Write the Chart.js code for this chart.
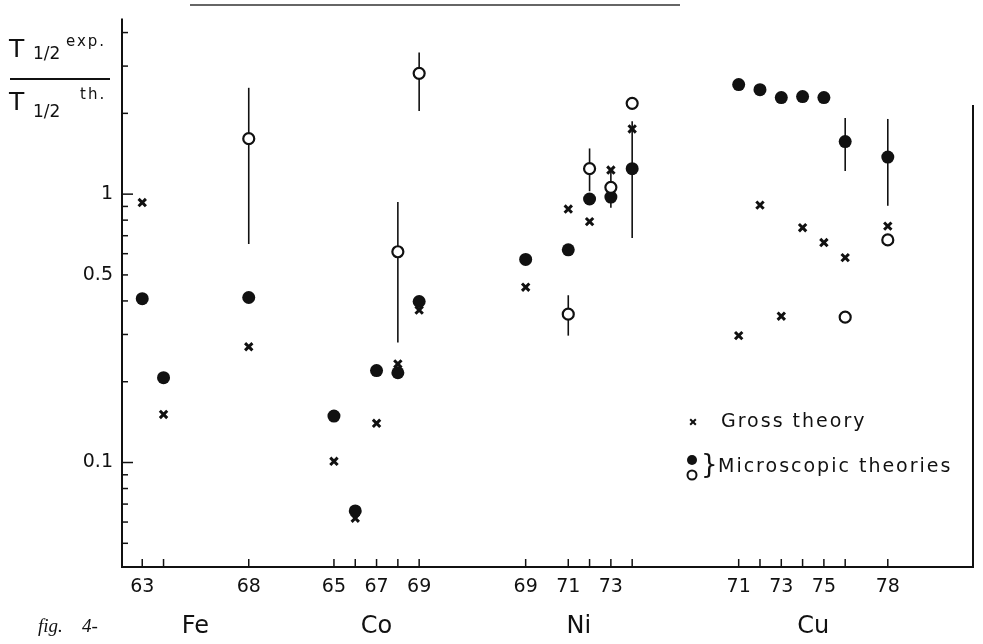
<!DOCTYPE html>
<html>
<head>
<meta charset="utf-8">
<script src="https://cdn.jsdelivr.net/npm/chart.js@4"></script>
<style>
  html, body { margin: 0; background: #fff; }
  #wrap { width: 983px; height: 644px; position: relative; }
</style>
</head>
<body>
<div id="wrap"><canvas id="chart"></canvas></div>
<script>
// mass numbers shown along the axis, per element
const elements = ["Fe", "Co", "Ni", "Cu"];
const slotOffset = { Fe: -62, Co: -55, Ni: -50, Cu: -42 };
const massTicks = {
  Fe: [63, 64, 68],
  Co: [65, 66, 67, 68, 69],
  Ni: [69, 71, 72, 73, 74],
  Cu: [71, 72, 73, 74, 75, 76, 78]
};
const massLabels = {
  Fe: [63, 68],
  Co: [65, 67, 69],
  Ni: [69, 71, 73],
  Cu: [71, 73, 75, 78]
};

const yTicks = [0.05, 0.06, 0.07, 0.08, 0.09, 0.1, 0.2, 0.3, 0.4, 0.5, 0.6, 0.7, 0.8, 0.9, 1, 2, 3, 4];
const yTickLabels = [0.1, 0.5, 1];

// T1/2 exp / T1/2 th  -> [element, mass, ratio]
const grossTheory = [
  ["Fe", 63, 0.93], ["Fe", 64, 0.151], ["Fe", 68, 0.27],
  ["Co", 65, 0.101], ["Co", 66, 0.062], ["Co", 67, 0.14], ["Co", 68, 0.233], ["Co", 69, 0.37],
  ["Ni", 69, 0.45], ["Ni", 71, 0.88], ["Ni", 72, 0.79], ["Ni", 73, 1.23], ["Ni", 74, 1.75],
  ["Cu", 71, 0.297], ["Cu", 72, 0.91], ["Cu", 73, 0.351], ["Cu", 74, 0.75], ["Cu", 75, 0.66],
  ["Cu", 76, 0.58], ["Cu", 78, 0.76]
];
const microFilled = [
  ["Fe", 63, 0.408], ["Fe", 64, 0.207], ["Fe", 68, 0.412],
  ["Co", 65, 0.149], ["Co", 66, 0.066], ["Co", 67, 0.22], ["Co", 68, 0.216], ["Co", 69, 0.398],
  ["Ni", 69, 0.571], ["Ni", 71, 0.62], ["Ni", 72, 0.959], ["Ni", 73, 0.975], ["Ni", 74, 1.244],
  ["Cu", 71, 2.56], ["Cu", 72, 2.45], ["Cu", 73, 2.29], ["Cu", 74, 2.31], ["Cu", 75, 2.29],
  ["Cu", 76, 1.57], ["Cu", 78, 1.374]
];
const microOpen = [
  ["Fe", 68, 1.61], ["Co", 68, 0.61], ["Co", 69, 2.82],
  ["Ni", 71, 0.357], ["Ni", 72, 1.244], ["Ni", 73, 1.06], ["Ni", 74, 2.18],
  ["Cu", 76, 0.348], ["Cu", 78, 0.675]
];
// [element, mass, low, high]
const errorBars = [
  ["Fe", 68, 0.652, 2.49], ["Co", 68, 0.28, 0.935], ["Co", 69, 2.04, 3.37],
  ["Ni", 71, 0.297, 0.42], ["Ni", 72, 1.025, 1.48], ["Ni", 73, 0.89, 1.22],
  ["Ni", 74, 0.686, 1.87], ["Cu", 76, 1.22, 1.92], ["Cu", 78, 0.905, 1.906]
];

const ink = "#111";
const font = "'DejaVu Sans', sans-serif";

const slot = (el, a) => a + slotOffset[el];
const toPoints = (rows) => rows.map(r => ({ x: slot(r[0], r[1]), y: r[2] }));

const xTickValues = [];
const xLabelMap = {};
elements.forEach(el => {
  massTicks[el].forEach(a => xTickValues.push(slot(el, a)));
  massLabels[el].forEach(a => { xLabelMap[slot(el, a)] = String(a); });
});

const decor = {
  id: "decor",
  beforeDatasetsDraw(chart) {
    const { ctx, scales: { x, y } } = chart;
    ctx.save();
    ctx.strokeStyle = ink;
    ctx.lineWidth = 1.6;
    errorBars.forEach(([el, a, lo, hi]) => {
      const px = x.getPixelForValue(slot(el, a));
      ctx.beginPath();
      ctx.moveTo(px, y.getPixelForValue(lo));
      ctx.lineTo(px, y.getPixelForValue(hi));
      ctx.stroke();
    });
    ctx.restore();
  },
  afterDraw(chart) {
    const { ctx, chartArea: ca, scales: { x, y } } = chart;
    ctx.save();
    ctx.strokeStyle = ink;
    ctx.fillStyle = ink;

    // axes
    ctx.lineWidth = 2;
    ctx.beginPath();
    ctx.moveTo(ca.left, ca.top - 2);
    ctx.lineTo(ca.left, ca.bottom);
    ctx.lineTo(ca.right, ca.bottom);
    ctx.lineTo(ca.right, 105);
    ctx.stroke();

    // scanned header line
    ctx.lineWidth = 1.5;
    ctx.strokeStyle = "#333";
    ctx.beginPath();
    ctx.moveTo(190, 5);
    ctx.lineTo(680, 5);
    ctx.stroke();
    ctx.strokeStyle = ink;

    // inward tick marks
    ctx.lineWidth = 1.5;
    xTickValues.forEach(v => {
      const px = x.getPixelForValue(v);
      ctx.beginPath();
      ctx.moveTo(px, ca.bottom);
      ctx.lineTo(px, ca.bottom - 8);
      ctx.stroke();
    });
    yTicks.forEach(v => {
      const py = y.getPixelForValue(v);
      const len = (v === 1 || v === 0.1) ? 11 : 6;
      ctx.beginPath();
      ctx.moveTo(ca.left, py);
      ctx.lineTo(ca.left + len, py);
      ctx.stroke();
    });

    // element names
    ctx.font = "24px " + font;
    ctx.textAlign = "center";
    ctx.textBaseline = "middle";
    elements.forEach(el => {
      const m = massTicks[el];
      const mid = (slot(el, m[0]) + slot(el, m[m.length - 1])) / 2;
      ctx.fillText(el, x.getPixelForValue(mid), 627);
    });

    ctx.font = "italic 19px 'Liberation Serif', serif";
    ctx.textAlign = "left";
    ctx.fillText("fig.", 38, 627);
    ctx.fillText("4-", 82, 627);

    // y axis title
    ctx.textBaseline = "alphabetic";
    ctx.font = "25px " + font;
    ctx.fillText("T", 9, 57);
    ctx.fillText("T", 9, 110);
    ctx.font = "17px " + font;
    ctx.fillText("1/2", 33, 59);
    ctx.fillText("1/2", 33, 117);
    ctx.font = "15px " + font;
    ctx.letterSpacing = "2px";
    ctx.fillText("exp.", 66, 46);
    ctx.fillText("th.", 80, 99);
    ctx.letterSpacing = "0px";
    ctx.lineWidth = 2;
    ctx.beginPath();
    ctx.moveTo(10, 79);
    ctx.lineTo(110, 79);
    ctx.stroke();

    // legend
    const h = Chart.helpers;
    h.drawPoint(ctx, { pointStyle: "crossRot", radius: 4, borderWidth: 2.5 }, 693, 422);
    ctx.fillStyle = "#fff";
    h.drawPoint(ctx, { pointStyle: "circle", radius: 4.5, borderWidth: 1.8 }, 692, 475);
    ctx.fillStyle = ink;
    ctx.beginPath();
    ctx.arc(692, 460, 5, 0, Math.PI * 2);
    ctx.fill();
    ctx.font = "19px " + font;
    ctx.letterSpacing = "2px";
    ctx.textBaseline = "middle";
    ctx.fillText("Gross theory", 721, 422);
    ctx.fillText("Microscopic theories", 718, 467);
    ctx.letterSpacing = "0px";
    ctx.font = "26px 'DejaVu Sans', sans-serif";
    ctx.fillText("}", 701, 466);
    ctx.restore();
  }
};

const ctx = document.getElementById("chart").getContext("2d");
new Chart(ctx, {
  type: "scatter",
  data: {
    datasets: [
      {
        label: "Microscopic theories (open)",
        data: toPoints(microOpen),
        pointStyle: "circle",
        pointRadius: 5.5,
        pointBackgroundColor: "#fff",
        pointBorderColor: ink,
        pointBorderWidth: 2.2,
        order: 0
      },
      {
        label: "Microscopic theories",
        data: toPoints(microFilled),
        pointStyle: "circle",
        pointRadius: 6.5,
        pointBackgroundColor: ink,
        pointBorderColor: ink,
        pointBorderWidth: 0,
        order: 1
      },
      {
        label: "Gross theory",
        data: toPoints(grossTheory),
        pointStyle: "crossRot",
        pointRadius: 5.2,
        pointBorderColor: ink,
        pointBorderWidth: 3,
        order: 2
      }
    ]
  },
  options: {
    responsive: true,
    maintainAspectRatio: false,
    animation: false,
    layout: { padding: { top: 7, right: 10, left: 0, bottom: 0 } },
    plugins: { legend: { display: false }, tooltip: { enabled: false } },
    scales: {
      x: {
        type: "linear",
        min: 0.05,
        max: 40,
        afterBuildTicks: s => { s.ticks = xTickValues.map(v => ({ value: v })); },
        afterFit: s => { s.height = 77; },
        grid: { display: false, drawTicks: false },
        border: { display: false },
        ticks: {
          autoSkip: false,
          maxRotation: 0,
          padding: 9,
          color: ink,
          font: { family: font, size: 19 },
          callback: v => xLabelMap[v] || ""
        }
      },
      y: {
        type: "logarithmic",
        min: 0.0408,
        max: 4.44,
        afterBuildTicks: s => { s.ticks = yTicks.map(v => ({ value: v })); },
        afterFit: s => { s.width = 122; },
        grid: { display: false, drawTicks: false },
        border: { display: false },
        ticks: {
          autoSkip: false,
          padding: 9,
          color: ink,
          font: { family: font, size: 19 },
          callback: v => yTickLabels.includes(v) ? String(v) : ""
        }
      }
    }
  },
  plugins: [decor]
});
</script>
</body>
</html>
